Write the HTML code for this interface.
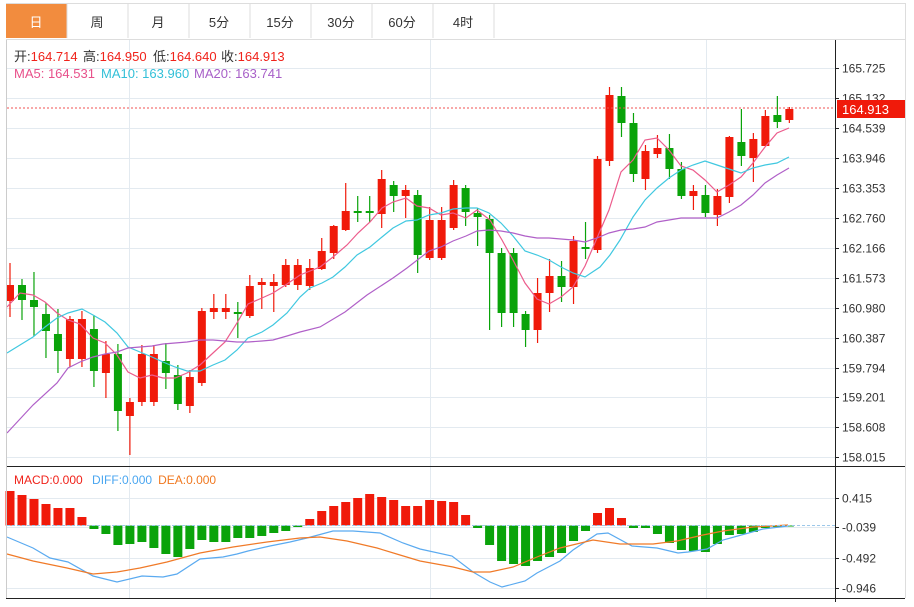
<!DOCTYPE html>
<html><head><meta charset="utf-8"><style>
body{margin:0;background:#fff;width:914px;height:602px;overflow:hidden;font-family:"Liberation Sans","Noto Sans CJK SC",sans-serif}
</style></head><body>
<svg id="s" width="914" height="602" xmlns="http://www.w3.org/2000/svg" font-family="Liberation Sans, Noto Sans CJK SC, sans-serif">
<rect x="6" y="3" width="61" height="35" fill="#f28c3e"/>
<g stroke="#ddd" fill="none"><line x1="6" y1="3.5" x2="905" y2="3.5"/><line x1="67" y1="3" x2="67" y2="38"/><line x1="128" y1="3" x2="128" y2="38"/><line x1="189" y1="3" x2="189" y2="38"/><line x1="250" y1="3" x2="250" y2="38"/><line x1="311" y1="3" x2="311" y2="38"/><line x1="372" y1="3" x2="372" y2="38"/><line x1="433" y1="3" x2="433" y2="38"/><line x1="494" y1="3" x2="494" y2="38"/><line x1="6" y1="39.5" x2="905" y2="39.5"/><line x1="905.5" y1="3" x2="905.5" y2="598"/></g>
<g font-size="13" text-anchor="middle" fill="#333"><text x="36" y="27" fill="#fff">日</text><text x="97" y="27">周</text><text x="158" y="27">月</text><text x="219" y="27">5分</text><text x="280" y="27">15分</text><text x="341" y="27">30分</text><text x="402" y="27">60分</text><text x="463" y="27">4时</text></g>
<g id="grid" stroke="#e3eaf0" stroke-width="1"></g>
<g id="c"></g>
<g font-size="13"><text y="61" fill="#333"><tspan x="14">开:</tspan><tspan fill="#f0221a">164.714</tspan><tspan x="83">高:</tspan><tspan fill="#f0221a">164.950</tspan><tspan x="153">低:</tspan><tspan fill="#f0221a">164.640</tspan><tspan x="221">收:</tspan><tspan fill="#f0221a">164.913</tspan></text>
<text y="78" fill="#e8508a"><tspan x="14">MA5: 164.531</tspan><tspan x="101" fill="#33c0d8">MA10: 163.960</tspan><tspan x="194" fill="#a860c8">MA20: 163.741</tspan></text>
<text x="14" y="484" fill="#f0221a" font-size="12">MACD:0.000 <tspan dx="6" fill="#4aa6f0">DIFF:0.000</tspan><tspan dx="6" fill="#f07820">DEA:0.000</tspan></text></g>
<line x1="6" y1="466.5" x2="905" y2="466.5" stroke="#222"/>
<line x1="6" y1="598.5" x2="905" y2="598.5" stroke="#222"/>
<line x1="6.5" y1="40" x2="6.5" y2="598" stroke="#ccc"/>
<line x1="835.5" y1="40" x2="835.5" y2="602" stroke="#222"/>
<line x1="7" y1="108" x2="835" y2="108" stroke="#f05050" stroke-dasharray="2,2"/>
<line x1="7" y1="525.5" x2="835" y2="525.5" stroke="#9cc8ea" stroke-dasharray="3,2"/>
<g id="ax" font-size="12" fill="#333"></g>
<rect x="837" y="100" width="68" height="18" fill="#f01a0a"/>
<text x="842" y="114" font-size="13" fill="#fff">164.913</text>
</svg>
<script>
var NS="http://www.w3.org/2000/svg",c=document.getElementById('c'),g=document.getElementById('grid'),ax=document.getElementById('ax');
function el(p,t,a){var e=document.createElementNS(NS,t);for(var k in a)e.setAttribute(k,a[k]);p.appendChild(e);return e}
var labs=["165.725","165.132","164.539","163.946","163.353","162.760","162.166","161.573","160.980","160.387","159.794","159.201","158.608","158.015"];
for(var i=0;i<14;i++){var y=Math.round(68+i*29.95)+.5;el(g,'line',{x1:7,x2:835,y1:y,y2:y});el(ax,'line',{x1:835,x2:839,y1:y,y2:y,stroke:'#222'});var t=el(ax,'text',{x:842,y:y+4});t.textContent=labs[i];}
[[498,"0.415"],[527,"-0.039"],[558,"-0.492"],[588,"-0.946"]].forEach(function(a){var y=a[0]+.5;el(g,'line',{x1:7,x2:835,y1:y,y2:y});el(ax,'line',{x1:835,x2:839,y1:y,y2:y,stroke:'#222'});var t=el(ax,'text',{x:842,y:y+4});t.textContent=a[1];});
[129.5,430.5,706.5].forEach(function(x){el(g,'line',{x1:x,x2:x,y1:40,y2:598})});
var R='#f01a0a',G='#0aa30a';
var K=[['r',285,301,263,317],['g',285,300,279,320],['g',300,307,272,336],['g',314,331,303,358],['g',334,351,309,373],['r',319,359,316,367],['r',319,359,311,367],['g',329,371,315,387],['r',354,373,341,398],['g',354,411,344,431],['r',402,416,398,455],['r',354,402,345,406],['r',354,402,345,406],['g',361,373,343,389],['g',375,404,365,410],['r',377,406,370,413],['r',311,383,308,386],['r',308,312,294,319],['r',308,312,294,319],['g',312,314,302,338],['r',286,316,275,318],['r',282,285,278,309],['r',282,286,274,312],['r',265,285,259,287],['r',265,285,259,290],['r',268,286,259,290],['r',251,269,238,270],['r',226,253,225,259],['r',211,230,183,231],['g',211,213,196,222],['g',211,213,196,222],['r',179,214,170,228],['g',185,196,181,212],['r',190,196,185,218],['g',195,255,190,273],['r',220,258,207,260],['r',220,258,207,260],['r',185,228,180,230],['g',188,212,185,226],['g',213,217,208,246],['g',219,253,215,330],['g',253,313,248,327],['g',253,313,248,327],['g',314,330,311,347],['r',293,330,278,343],['r',276,293,259,312],['g',276,287,261,302],['r',241,287,236,304],['g',247,249,222,259],['r',159,250,156,253],['r',95,161,87,166],['g',96,123,87,137],['g',123,174,113,182],['r',151,179,145,190],['r',148,154,135,158],['g',148,169,134,179],['g',169,196,162,199],['r',191,196,185,210],['g',195,213,185,217],['r',196,215,189,226],['r',137,197,136,203],['g',142,156,109,166],['r',139,158,133,182],['r',116,146,110,146],['g',115,122,96,128],['r',109,120,107,123]];
var H=[491,495,499,504,508,508,517,529,534,545,544,542,548,554,557,549,540,542,542,538,538,536,533,531,527,519,511,506,502,498,494,497,500,506,506,500,501,502,515,528,545,561,564,566,561,557,553,541,531,513,508,518,528,528,534,543,550,551,552,544,535,534,532,528,527,526];
var Z=525.5;
for(var i=0;i<66;i++){var x=10+11.99*i,k=K[i],col=k[0]=='r'?R:G;
el(c,'line',{x1:x,x2:x,y1:k[3],y2:k[4],stroke:col,'stroke-width':1.2});
el(c,'rect',{x:x-4,y:k[1],width:8,height:Math.max(2,k[2]-k[1]),fill:col});
var h=H[i],hc=h<Z?R:G;el(c,'rect',{x:x-4.5,y:Math.min(h,Z),width:9,height:Math.max(1,Math.abs(h-Z)),fill:hc});}
function pl(s,col){el(c,'polyline',{points:s,fill:'none',stroke:col,'stroke-width':1.2});}
pl("7,307 20,293 33,295 45,302 57,313 68,320 80,324 93,338 105,343 117,355 128,372 140,378 152,375 163,378 175,378 187,373 200,365 213,353 225,342 237,323 248,304 262,298 273,293 287,284 300,275 320,267 333,257 347,245 358,233 370,222 382,208 393,202 406,198 417,206 429,208 441,215 453,213 466,218 477,210 490,220 502,240 513,260 525,283 537,299 549,304 561,297 573,287 585,266 597,238 609,210 621,172 633,160 645,140 657,138 669,150 681,166 693,170 705,180 717,192 729,185 741,177 753,163 765,147 777,133 789,128","#ec5c8c");
pl("7,353 20,345 33,337 45,327 57,318 68,313 82,309 93,315 105,322 117,333 128,347 140,352 152,357 163,362 175,367 187,371 200,371 213,365 225,360 237,350 248,338 262,332 273,325 287,313 300,297 310,288 322,283 333,277 345,267 357,255 370,247 382,237 393,228 406,221 417,220 429,215 441,213 453,209 466,208 477,208 489,213 501,223 513,236 525,251 537,255 549,260 561,267 573,273 585,277 600,267 610,255 620,240 633,217 645,200 657,188 669,178 681,170 693,165 705,161 717,165 729,169 741,173 753,168 765,165 777,163 789,157","#40c8e0");
pl("7,433 33,405 57,383 68,368 80,362 93,357 105,354 117,352 128,348 152,346 163,344 187,342 200,340 213,340 237,342 248,342 262,341 273,340 287,336 300,332 320,327 345,312 367,295 393,278 407,268 429,251 441,247 453,241 466,236 477,231 489,230 501,231 513,233 525,236 537,238 549,238 561,239 573,240 585,242 597,238 609,233 621,230 633,229 645,227 657,222 669,220 681,218 693,218 705,218 717,218 729,212 741,205 753,195 765,183 777,175 789,168","#b060c8");
pl("7,537 33,548 50,558 68,562 93,576 117,582 142,576 163,577 177,574 200,559 223,557 237,554 248,551 270,546 290,542 307,538 333,531 353,531 380,533 403,543 420,549 452,556 473,572 490,582 502,587 525,581 537,573 560,561 573,550 597,534 608,533 632,546 657,548 678,553 688,552 707,549 723,540 745,534 763,529 788,526","#5aaaf0");
pl("7,554 33,561 67,568 93,574 117,572 140,568 167,562 200,553 233,547 267,542 300,538 320,537 347,541 377,548 400,555 420,561 453,567 473,572 490,572 513,567 537,557 560,548 593,540 620,544 653,544 677,541 703,535 723,531 753,527 788,525","#f07a28");
</script>
</body></html>
